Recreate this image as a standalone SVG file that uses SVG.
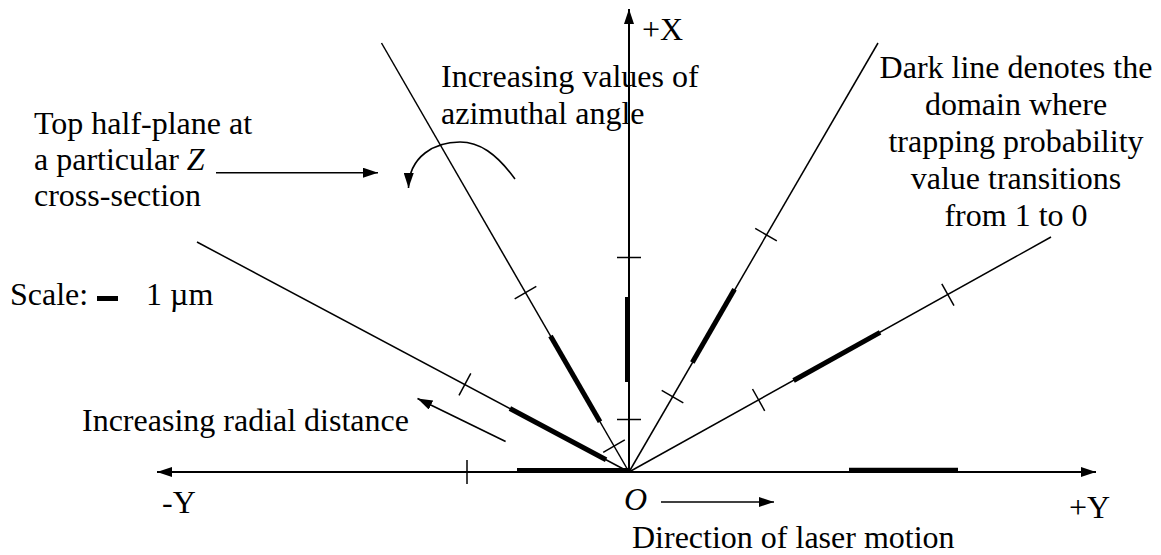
<svg xmlns="http://www.w3.org/2000/svg" width="1161" height="555" viewBox="0 0 1161 555">
<defs>
<style>
text{font-family:"Liberation Serif","Times New Roman",serif;font-size:32px;fill:#000}
.ax{stroke:#000;stroke-width:2;fill:none}
.rl{stroke:#000;stroke-width:1.5;fill:none}
.tk{stroke:#000;stroke-width:1.5;fill:none}
.th{stroke:#000;stroke-width:5;fill:none}
.ar{stroke:#000;stroke-width:1.6;fill:none}
</style>
<marker id="ah" viewBox="0 0 15 10" refX="15" refY="5" markerWidth="15" markerHeight="10" markerUnits="userSpaceOnUse" orient="auto">
<path d="M0,0 L15,5 L0,10 z" fill="#000"/>
</marker>
</defs>
<rect width="1161" height="555" fill="#fff"/>

<g id="connectors">
<!-- axes -->
<line class="ax" x1="629" y1="472" x2="157" y2="472" marker-end="url(#ah)"/>
<line class="ax" x1="629" y1="472" x2="1096" y2="472" marker-end="url(#ah)"/>
<line class="ax" x1="629" y1="472" x2="629" y2="9" marker-end="url(#ah)"/>
<!-- radial lines -->
<line class="rl" x1="629" y1="472" x2="197" y2="242"/>
<line class="rl" x1="629" y1="472" x2="381.5" y2="43"/>
<line class="rl" x1="629" y1="472" x2="878" y2="43"/>
<line class="rl" x1="629" y1="472" x2="1051" y2="237"/>
<!-- ticks -->
<line class="tk" x1="467" y1="460" x2="467" y2="484"/>
<line class="tk" x1="617" y1="257.5" x2="641" y2="257.5"/>
<line class="tk" x1="617" y1="419.5" x2="641" y2="419.5"/>
<line class="tk" x1="459" y1="395.4" x2="470.8" y2="373.4"/>
<line class="tk" x1="603.2" y1="452.3" x2="624.8" y2="439.8"/>
<line class="tk" x1="514.7" y1="298.9" x2="536.3" y2="286.4"/>
<line class="tk" x1="661.7" y1="390.4" x2="683.3" y2="402.9"/>
<line class="tk" x1="755.2" y1="228.4" x2="776.8" y2="240.9"/>
<line class="tk" x1="752.5" y1="389" x2="764.7" y2="410.8"/>
<line class="tk" x1="941.8" y1="283.8" x2="954" y2="305.6"/>
<!-- thick domain segments -->
<line class="th" x1="517" y1="470.5" x2="629" y2="470.5"/>
<line class="th" x1="849" y1="470.3" x2="958" y2="470.3"/>
<line class="th" x1="627.5" y1="297" x2="627.5" y2="382"/>
<line class="th" x1="606.1" y1="459.8" x2="509.9" y2="408.5"/>
<line class="th" x1="600" y1="421.8" x2="550.5" y2="336"/>
<line class="th" x1="692.3" y1="362.4" x2="734.5" y2="289.3"/>
<line class="th" x1="793.6" y1="380.5" x2="880.1" y2="332.4"/>
<!-- annotation arrows -->
<line class="ar" x1="216" y1="172.7" x2="378" y2="172.7" marker-end="url(#ah)"/>
<path class="ar" d="M515,179 C496,153 479,142 460,142 C435,142 409,156 408.5,188" marker-end="url(#ah)"/>
<line class="ar" x1="505.6" y1="441.5" x2="417.5" y2="398.5" marker-end="url(#ah)"/>
<line class="ar" x1="661" y1="502" x2="774" y2="502" marker-end="url(#ah)"/>
</g>

<g id="scale">
<text x="10" y="305">Scale:</text>
<line class="th" x1="97" y1="298.5" x2="118" y2="298.5"/>
<text x="146" y="305">1 µm</text>
</g>

<g id="label-top-half-plane">
<text x="34" y="134">Top half-plane at</text>
<text x="34" y="170">a particular <tspan font-style="italic">Z</tspan></text>
<text x="34" y="206">cross-section</text>
</g>

<g id="label-azimuthal">
<text x="441" y="87">Increasing values of</text>
<text x="441" y="124">azimuthal angle</text>
</g>

<g id="label-dark-line" text-anchor="middle">
<text x="1016" y="78">Dark line denotes the</text>
<text x="1016" y="115">domain where</text>
<text x="1016" y="152">trapping probability</text>
<text x="1016" y="189">value transitions</text>
<text x="1016" y="226">from 1 to 0</text>
</g>

<g id="label-radial">
<text x="82" y="431">Increasing radial distance</text>
</g>

<g id="axis-labels">
<text x="642" y="40">+X</text>
<text x="162" y="513">-Y</text>
<text x="1069" y="518">+Y</text>
<text x="624" y="510" font-style="italic">O</text>
<text x="632" y="548">Direction of laser motion</text>
</g>
</svg>
